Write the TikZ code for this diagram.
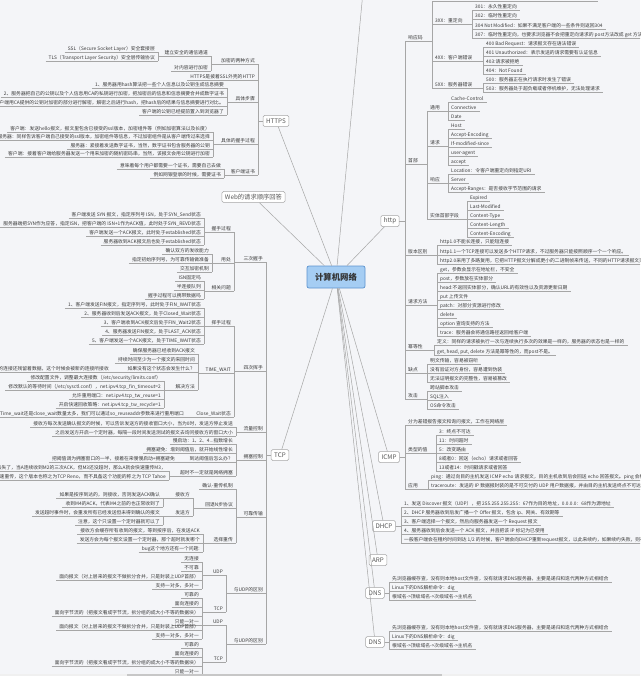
\documentclass[tikz,border=0pt]{standalone}
\usepackage{fontspec}
\setmainfont{Noto Sans CJK SC}
\definecolor{bgc}{HTML}{F4F5F8}
\definecolor{lnc}{HTML}{A6A6A6}
\definecolor{txc}{HTML}{3A3A3A}
\definecolor{cfill}{HTML}{A5CDF3}
\definecolor{cdraw}{HTML}{5C93CF}
\tikzset{
 ln/.style={draw=lnc, line width=0.5pt},
 ct/.style={font=\fontsize{4.8}{5}\selectfont, text=txc, inner xsep=3pt, inner ysep=0.5pt, text height=3.9pt, text depth=0.9pt},
 mainbox/.style={draw=lnc, fill=white, rounded corners=1.5pt, font=\fontsize{6.3}{7}\selectfont, text=txc!85, inner xsep=3pt, inner ysep=1pt, minimum height=11pt, line width=0.5pt},
 hub/.style={draw=cdraw, fill=cfill, rounded corners=2pt, font=\fontsize{8.4}{10}\selectfont\bfseries, text=black!80, minimum width=58pt, minimum height=22pt, line width=0.7pt}
}
\newcommand\nR[4]{\node[ct,anchor=west] (#1) at (#2,#3) {#4};\draw[ln] (#1.south west) -- (#1.south east);}
\newcommand\nL[4]{\node[ct,anchor=east] (#1) at (#2,#3) {#4};\draw[ln] (#1.south west) -- (#1.south east);}
\newcommand\JR[2]{\foreach \q in {#2}{\draw[ln] (#1.south east) -| (\q.south west);}}
\newcommand\JL[2]{\foreach \q in {#2}{\draw[ln] (#1.south west) -| (\q.south east);}}
\newcommand\JBR[2]{\foreach \q in {#2}{\draw[ln] (#1.east) -| (\q.south west);}}
\newcommand\JBL[2]{\foreach \q in {#2}{\draw[ln] (#1.west) -| (\q.south east);}}
\begin{document}
\begin{tikzpicture}[x=1pt,y=-1pt]
\useasboundingbox (0,0) rectangle (640,676);
\clip (0,0) rectangle (640,676);
\fill[bgc] (0,0) rectangle (640,676);

% ---------- main nodes ----------
\node[hub] (root) at (336,277) {计算机网络};
\node[mainbox] (https) at (276,121) {HTTPS};
\node[mainbox] (web) at (253.5,197) {Web的请求顺序回答};
\node[mainbox] (tcp) at (280,455) {TCP};
\node[mainbox] (http) at (390,221) {http};
\node[mainbox] (icmp) at (389,457) {ICMP};
\node[mainbox] (dhcp) at (384,526) {DHCP};
\node[mainbox] (arp) at (378,560) {ARP};
\node[mainbox] (dns) at (375,593) {DNS};
\node[mainbox] (dnsb) at (375,642) {DNS};
\coordinate (offtop) at (366,-40);

\foreach \q in {offtop,https,web,tcp,http,icmp,dhcp,arp,dns,dnsb}{\draw[ln] (root) -- (\q);}

% ---------- HTTPS ----------
\nL{a1}{258}{61}{加密的两种方式}
\nL{a11}{211}{53}{建立安全的通信通道}
\nL{a111}{158}{49}{SSL（Secure Socket Layer）安全套接层}
\nL{a112}{158}{58}{TLS（Transport Layer Security）安全层传输协议}
\nL{a12}{211}{68}{对内容进行加密}
\nL{a2}{258}{77}{HTTPS是披着SSL外壳的HTTP}
\nL{a3}{258}{99}{具体步骤}
\nL{a31}{227}{85}{1、服务器用hash算法把一些个人信息以及公钥生成信息摘要}
\nL{a32}{227}{94}{2、服务器把自己的公钥以及个人信息用CA的私钥进行加密，把加密后的信息和信息摘要合并成数字证书}
\nL{a33}{227}{103}{3、客户端用CA提供的公钥对加密的部分进行解密，解密之后进行hash，把hash后的结果与信息摘要进行对比。}
\nL{a34}{227}{112}{客户端的公钥已经提前置入到浏览器了}
\nL{a4}{258}{141}{具体的握手过程}
\nL{a41}{213}{129}{客户端：发送hello报文，报文里包含已接受的ssl版本，加密组件等（例如加密算法以及长度）}
\nL{a42}{213}{137}{服务器：同样告诉客户端自己接受的ssl版本，加密组件等信息，不过加密组件是从客户端传过来选择}
\nL{a43}{213}{146}{服务器：紧接着发送数字证书，当然，数字证书包含服务器的公钥}
\nL{a44}{213}{154}{客户端：接着客户端给服务器发送一个用来加密的随机密码串，当然，该报文会用公钥进行加密}
\nL{a5}{258}{172}{客户端证书}
\nL{a51}{224}{166}{意味着每个用户都需要一个证书，需要自己去做}
\nL{a52}{224}{175}{例如网银登录的时候，需要证书}
\JBL{https}{a1,a2,a3,a4,a5}
\JL{a1}{a11,a12}
\JL{a11}{a111,a112}
\JL{a3}{a31,a32,a33,a34}
\JL{a4}{a41,a42,a43,a44}
\JL{a5}{a51,a52}

% ---------- TCP ----------
\nL{t1}{266}{259}{三次握手}
\nL{t11}{234}{229}{握手过程}
\nL{t111}{204}{215}{客户端发送 SYN 报文，指定序列号 ISN，处于SYN\_Send状态}
\nL{t112}{204}{224}{服务器端把SYN作为应答，指定ISN，把客户端的 ISN+1作为ACK值，此时处于SYN\_REVD状态}
\nL{t113}{204}{233}{客户端发送一个ACK报文，此时处于established状态}
\nL{t114}{204}{242}{服务器收到ACK报文后也处于established状态}
\nL{t12}{234}{260}{用处}
\nL{t121}{212}{251}{确认双方的发收能力}
\nL{t122}{212}{260}{指定初始序列号，为可靠传输做准备}
\nL{t123}{212}{269}{交互加密机制}
\nL{t13}{234}{288}{相关问题}
\nL{t131}{204}{278}{ISN固定吗}
\nL{t132}{204}{287}{半连接队列}
\nL{t133}{204}{296}{握手过程可以携带数据吗}
\nL{t2}{266}{368}{四次挥手}
\nL{t21}{234}{323}{挥手过程}
\nL{t211}{204}{305}{1、客户端发送FIN报文，指定序列号，此时处于FIN\_WAIT状态}
\nL{t212}{204}{314}{2、服务器收到后发送ACK报文，处于Closed\_Wait状态}
\nL{t213}{204}{323}{3、客户端收到ACK报文后处于FIN\_Wait2状态}
\nL{t214}{204}{332}{4、服务器发送FIN报文，处于LAST\_ACK状态}
\nL{t215}{204}{341}{5、客户端发送一个ACK报文，处于TIME\_WAIT状态}
\nL{t22}{234}{370}{TIME\_WAIT}
\nL{t221}{198}{351}{确保服务器已经收到ACK报文}
\nL{t222}{198}{360}{持续时间至少为一个报文的来回时间}
\nL{t223}{198}{369}{如果没有这个状态会发生什么？}
\nL{t2231}{112}{369}{旧的连接还残留着数据，这个时候会被新的连接所接收}
\nL{t224}{198}{387}{解决方法}
\nL{t2241}{164}{378}{修改配置文件，调整最大连接数（/etc/security/limits.conf）}
\nL{t2242}{164}{387}{修改默认的等待时间（/etc/sysctl.conf），net.ipv4.tcp\_fin\_timeout=2}
\nL{t2243}{164}{396}{允许重用端口：net.ipv4.tcp\_tw\_reuse=1}
\nL{t2244}{164}{405}{开启快速回收策略：net.ipv4.tcp\_tw\_recycle=1}
\nL{t23}{234}{414}{Close\_Wait状态}
\nL{t231}{187}{414}{Time\_wait还是close\_wait数量太多，我们可以通过so\_reuseaddr参数来进行重用端口}
\nL{t3}{266}{429}{流量控制}
\nL{t31}{236}{424}{接收方每次发送确认报文的时候，可以告诉发送方的接收窗口大小，当为0时，发送方停止发送}
\nL{t32}{236}{433}{之后发送方开启一个定时器，每隔一段时间发送测试的报文去询问接收方的窗口大小}
\nL{t4}{266}{457}{拥塞控制}
\nL{t41}{236}{441}{慢启动：1、2、4...指数增长}
\nL{t42}{236}{450}{拥塞避免：增到阈值后，就开始线性增长}
\nL{t43}{236}{459}{到达阈值后怎么办？}
\nL{t431}{178}{459}{把阈值调为拥塞窗口的一半，接着在来慢慢启动+拥塞避免}
\nL{t44}{236}{473}{超时不一定就是网络拥塞}
\nL{t441}{169}{468}{例如M3丢失了，当A连续收到M2的三次ACK，但M3还没超时，那么A就会快速重传M3，}
\nL{t442}{169}{477}{这就是快速重传，这个版本也称之为TCP Reno，而不具备这个功能的称之为 TCP Tahoe}
\nL{t5}{266}{514}{可靠传输}
\nL{t51}{236}{486}{确认-重传机制}
\nL{t52}{236}{505}{回退N步协议}
\nL{t521}{193}{495}{接收方}
\nL{t5211}{163}{495}{如果是按序到达的，则接收，否则发送ACK确认}
\nL{t5212}{163}{504}{收到M4的ACK，代表M4之前的也正常收到了}
\nL{t522}{193}{513}{发送方}
\nL{t5221}{163}{513}{发送超时事件时，会重发所有已经发送但未得到确认的报文}
\nL{t5222}{163}{522}{注意，这个只设置一个定时器就可以了}
\nL{t53}{236}{540}{选择重传}
\nL{t531}{203}{531}{接收方会缓存所有收到的报文，等到按序后，在发送ACK}
\nL{t532}{203}{540}{发送方会为每个报文设置一个定时器，那个超时就发哪个}
\nL{t533}{203}{549}{bug这个地方还有一个问题:}
\nL{t6}{266}{590}{与UDP的区别}
\nL{t61}{226}{572}{UDP}
\nL{t611}{202}{559}{无连接}
\nL{t612}{202}{568}{不可靠}
\nL{t613}{202}{577}{面向报文（对上层来的报文不做拆分合并，只是封装上UDP首部）}
\nL{t614}{202}{586}{支持一对多，多对一}
\nL{t62}{226}{609}{TCP}
\nL{t621}{202}{595}{可靠的}
\nL{t622}{202}{604}{面向连接的}
\nL{t623}{202}{613}{面向字节流的（把报文看成字节流，拆分组的成大小不等的数据块）}
\nL{t624}{202}{622}{只能一对一}
\nL{t7}{266}{641}{与UDP的区别}
\nL{t71}{226}{622}{UDP}
\nL{t711}{202}{627}{面向报文（对上层来的报文不做拆分合并，只是封装上UDP首部）}
\nL{t712}{202}{636}{支持一对多，多对一}
\nL{t72}{226}{659}{TCP}
\nL{t721}{202}{645}{可靠的}
\nL{t722}{202}{654}{面向连接的}
\nL{t723}{202}{663}{面向字节流的（把报文看成字节流，拆分组的成大小不等的数据块）}
\nL{t724}{202}{672}{只能一对一}
\JBL{tcp}{t1,t2,t3,t4,t5,t6,t7}
\JL{t1}{t11,t12,t13}
\JL{t11}{t111,t112,t113,t114}
\JL{t12}{t121,t122,t123}
\JL{t13}{t131,t132,t133}
\JL{t2}{t21,t22,t23}
\JL{t21}{t211,t212,t213,t214,t215}
\JL{t22}{t221,t222,t223,t224}
\JL{t223}{t2231}
\JL{t224}{t2241,t2242,t2243,t2244}
\JL{t23}{t231}
\JL{t3}{t31,t32}
\JL{t4}{t41,t42,t43,t44}
\JL{t43}{t431}
\JL{t44}{t441,t442}
\JL{t5}{t51,t52,t53}
\JL{t52}{t521,t522}
\JL{t521}{t5211,t5212}
\JL{t522}{t5221,t5222}
\JL{t53}{t531,t532,t533}
\JL{t6}{t61,t62}
\JL{t61}{t611,t612,t613,t614}
\JL{t62}{t621,t622,t623,t624}
\JL{t7}{t71,t72}
\JL{t71}{t711,t712}
\JL{t72}{t721,t722,t723,t724}

% ---------- http ----------
\nR{h1}{405}{38}{响应码}
\nR{h10}{432}{-2}{204：请求处理成功，但是没有资源可以返回，206：对资源某一部分的请求}
\nR{h11}{432}{21}{3XX：重定向}
\nR{h111}{472}{7}{301：永久性重定向}
\nR{h112}{472}{16}{302：临时性重定向}
\nR{h113}{472}{26}{304 Not Modified：如果不满足客户端的一些条件则返回304}
\nR{h114}{472}{35}{307：临时性重定向，也要求浏览器不会把重定向请求的 post方法改成 get 方法}
\nR{h12}{432}{58}{4XX：客户端错误}
\nR{h121}{483}{44}{400 Bad Request：请求报文存在语法错误}
\nR{h122}{483}{53}{401 Unauthorized：表示发送的请求需要有认证信息}
\nR{h123}{483}{62}{403:请求被拒绝}
\nR{h124}{483}{71}{404：Not Found}
\nR{h13}{432}{85}{5XX：服务器错误}
\nR{h131}{483}{80}{500：服务器正在执行请求时发生了错误}
\nR{h132}{483}{89}{503：服务器处于超负载或者停机维护，无法处理请求}
\nR{h2}{405}{161}{首部}
\nR{h21}{427}{108}{通用}
\nR{h211}{448}{99}{Cache-Control}
\nR{h212}{448}{108}{Connective}
\nR{h213}{448}{117}{Date}
\nR{h22}{427}{143}{请求}
\nR{h221}{448}{126}{Host}
\nR{h222}{448}{135}{Accept-Encoding}
\nR{h223}{448}{144}{If-modified-since}
\nR{h224}{448}{153}{user-agent}
\nR{h225}{448}{162}{accept}
\nR{h23}{427}{180}{响应}
\nR{h231}{448}{171}{Location：令客户端重定向到指定URI}
\nR{h232}{448}{180}{Server}
\nR{h233}{448}{189}{Accept-Ranges：是否接收字节范围的请求}
\nR{h24}{427}{216}{实体首部字段}
\nR{h241}{467}{198}{Expired}
\nR{h242}{467}{207}{Last-Modified}
\nR{h243}{467}{216}{Content-Type}
\nR{h244}{467}{225}{Content-Length}
\nR{h245}{467}{234}{Content-Encoding}
\nR{h3}{405}{252}{版本区别}
\nR{h31}{437}{242}{http1.0不能长连接，只能短连接}
\nR{h32}{437}{252}{http1.1一个TCP连接可以发送多个HTTP请求，不过服务器只能按照顺序一个一个响应。}
\nR{h33}{437}{261}{http2.0采用了多路复用，它把HTTP报文分解成更小的二进制帧来传送，不同的HTTP请求报文交错发送}
\nR{h4}{405}{302}{请求方法}
\nR{h41}{437}{270}{get，参数会显示在地址栏，不安全}
\nR{h42}{437}{279}{post，参数放在实体部分}
\nR{h43}{437}{288}{head:不返回实体部分，确认URL的有效性以及资源更新日期}
\nR{h44}{437}{297}{put 上传文件}
\nR{h45}{437}{306}{patch：对部分资源进行修改}
\nR{h46}{437}{315}{delete}
\nR{h47}{437}{324}{option 查询支持的方法}
\nR{h48}{437}{333}{trace：服务器会将通信路径返回给客户端}
\nR{h5}{405}{347}{幂等性}
\nR{h51}{434}{342}{定义：同样的请求被执行一次与连续执行多次的效果是一样的，服务器的状态也是一样的}
\nR{h52}{434}{352}{get, head, put, delete 方法是幂等性的，而post不是。}
\nR{h6}{405}{370}{缺点}
\nR{h61}{427}{361}{明文传输，容易被窃听}
\nR{h62}{427}{370}{没有验证对方身份，容易遭到伪装}
\nR{h63}{427}{379}{无法证明报文的完整性，容易被篡改}
\nR{h7}{405}{396}{攻击}
\nR{h71}{427}{388}{跨站脚本攻击}
\nR{h72}{427}{397}{SQL注入}
\nR{h73}{427}{406}{OS命令攻击}
\JBR{http}{h1,h2,h3,h4,h5,h6,h7}
\JR{h1}{h10,h11,h12,h13}
\JR{h11}{h111,h112,h113,h114}
\JR{h12}{h121,h122,h123,h124}
\JR{h13}{h131,h132}
\JR{h2}{h21,h22,h23,h24}
\JR{h21}{h211,h212,h213}
\JR{h22}{h221,h222,h223,h224,h225}
\JR{h23}{h231,h232,h233}
\JR{h24}{h241,h242,h243,h244,h245}
\JR{h3}{h31,h32,h33}
\JR{h4}{h41,h42,h43,h44,h45,h46,h47,h48}
\JR{h5}{h51,h52}
\JR{h6}{h61,h62,h63}
\JR{h7}{h71,h72,h73}

% ---------- ICMP ----------
\nR{i1}{405}{422}{分为差错报告报文和询问报文，工作在网络层}
\nR{i2}{405}{450}{类型的值}
\nR{i21}{436}{432}{3：终点不可达}
\nR{i22}{436}{441}{11：时间超时}
\nR{i23}{436}{450}{5：改变路由}
\nR{i24}{436}{459}{8或者0：回送（echo）请求或者回答}
\nR{i25}{436}{468}{13或者14：时间戳请求或者回答}
\nR{i3}{405}{486}{应用}
\nR{i31}{428}{477}{ping：通过向目的主机发送 ICMP echo 请求报文，目的主机收到后会回送 echo 回答报文。ping 会根据时间和成功响应的次数估算出数据包往返时间以及丢包率。}
\nR{i32}{428}{486}{traceroute：发送的 IP 数据报封装的是不可交付的 UDP 用户数据报，并由目的主机发送终点不可达差错报告报文。}
\JBR{icmp}{i1,i2,i3}
\JR{i2}{i21,i22,i23,i24,i25}
\JR{i3}{i31,i32}

% ---------- DHCP ----------
\nR{d1}{401}{504}{1、发送 Discover 报文（UDP），把 255.255.255.255：67作为目的地址，0.0.0.0：68作为源地址}
\nR{d2}{401}{513}{2、DHCP 服务器收到后发广播一个 Offer 报文，包含 ip、网关、有效期等}
\nR{d3}{401}{522}{3、客户端选择一个报文，然后向服务器发送一个 Request 报文}
\nR{d4}{401}{531}{4、服务器收到后会发送一个 ACK 报文，并且把该 IP 标记为已使用}
\nR{d5}{401}{540}{一般客户端会在租约时间到达 1/2 的时候，客户端会向DHCP重新request报文，以此来续约，如果续约失败，则在7/8的时候再次请求}
\JBR{dhcp}{d1,d2,d3,d4,d5}

% ---------- DNS ----------
\nR{n1}{389}{579}{先浏览器缓存查，没有则本地host文件查，没有就请求DNS服务器，主要是递归和迭代两种方式相结合}
\nR{n2}{389}{588}{Linux下的DNS解析命令：dig}
\nR{n3}{389}{597}{根域名->顶级域名->次级域名->主机名}
\JBR{dns}{n1,n2,n3}
\nR{m1}{389}{628}{先浏览器缓存查，没有则本地host文件查，没有就请求DNS服务器，主要是递归和迭代两种方式相结合}
\nR{m2}{389}{637}{Linux下的DNS解析命令：dig}
\nR{m3}{389}{646}{根域名->顶级域名->次级域名->主机名}
\JBR{dnsb}{m1,m2,m3}

% ---------- scrollbar ----------
\fill[black!6] (0,673.5) rectangle (640,676);
\fill[black!22] (127,673.5) rectangle (442,676);
\end{tikzpicture}
\end{document}
